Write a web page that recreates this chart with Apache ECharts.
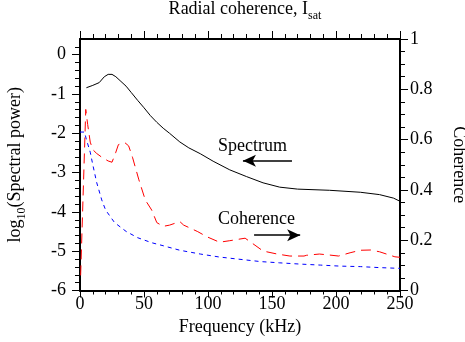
<!DOCTYPE html>
<html><head><meta charset="utf-8">
<script src="https://cdn.jsdelivr.net/npm/echarts@6/dist/echarts.min.js"></script>
<style>html,body{margin:0;padding:0;background:#fff}#c{width:465px;height:342px}</style>
</head><body><div id="c"></div>
<script>
// ---- data ----
const specFreq  = [5, 10, 15, 19, 22, 25, 28, 32, 36, 40, 45, 50, 55, 60, 65, 70, 78, 85, 94, 104, 117, 130, 143, 156, 170, 195, 219, 234, 245, 250];
const specPower = [-0.84, -0.78, -0.71, -0.56, -0.50, -0.50, -0.56, -0.68, -0.80, -0.96, -1.16, -1.35, -1.55, -1.72, -1.87, -2.00, -2.22, -2.37, -2.52, -2.71, -2.93, -3.10, -3.26, -3.37, -3.42, -3.45, -3.50, -3.56, -3.65, -3.73];

const cohFreq  = [0.5, 4.5, 6, 8, 10, 13, 17, 22, 25, 28, 30, 35, 38, 41, 46, 51, 56, 60, 65, 70, 78, 81, 92, 99, 109, 117, 129, 134, 143, 154, 164, 175, 177, 187, 195, 202, 211, 219, 227, 234, 246, 250];
const cohValue = [0.06, 0.72, 0.66, 0.59, 0.56, 0.545, 0.53, 0.515, 0.51, 0.55, 0.58, 0.588, 0.575, 0.53, 0.44, 0.36, 0.32, 0.27, 0.255, 0.26, 0.274, 0.26, 0.234, 0.214, 0.192, 0.198, 0.208, 0.19, 0.157, 0.145, 0.137, 0.137, 0.14, 0.145, 0.141, 0.137, 0.15, 0.16, 0.161, 0.154, 0.134, 0.132];

const levelFreq  = [0, 3.5, 5, 8, 10, 13, 17, 20, 27, 36, 45, 56, 65, 78, 94, 109, 125, 141, 156, 172, 188, 203, 219, 234, 250];
const levelValue = [0.63, 0.63, 0.60, 0.55, 0.50, 0.43, 0.36, 0.32, 0.27, 0.235, 0.21, 0.19, 0.178, 0.16, 0.145, 0.133, 0.124, 0.115, 0.11, 0.105, 0.101, 0.097, 0.095, 0.091, 0.088];

const xTickLabels = [0, 50, 100, 150, 200, 250];
const leftTickLabels = [-6, -5, -4, -3, -2, -1, 0];
const leftMinorTicks = [];
for (let i = 0; i <= 31; i++) leftMinorTicks.push(Math.round((-6 + i * 0.2) * 10) / 10);
const rightTickLabels = [0, 0.2, 0.4, 0.6, 0.8, 1];

// annotation positions (data space)
const spectrumArrow = [[165.6, -2.70], [127.3, -2.70]];
const spectrumText = [134.8, -2.34];
const coherenceArrow = [[136, 0.22], [172, 0.22]];
const coherenceText = [137.9, 0.284];

// ---- chart ----
const FONT = '"Liberation Serif", "Times New Roman", serif';
const txt = {fontFamily: FONT, fontSize: 18, color: '#000', fontWeight: 'normal'};
const zip = (a, b) => a.map((v, i) => [v, b[i]]);
const axisLine = {show: true, onZero: false, lineStyle: {color: '#000', width: 2}};

const chart = echarts.init(document.getElementById('c'), null, {renderer: 'canvas'});
chart.setOption({
  animation: false,
  backgroundColor: '#fff',
  title: {
    text: '{m|Radial coherence, I}{s|sat}',
    left: 240, top: -9, textAlign: 'center',
    textStyle: {fontWeight: 'normal', rich: {m: {fontFamily: FONT, fontSize: 18, color: '#000', fontWeight: 'normal'}, s: {fontFamily: FONT, fontSize: 12, color: '#000', fontWeight: 'normal', padding: [14, 0, 0, 0]}}}
  },
  grid: {left: 80, right: 65, top: 39, bottom: 51.5, containLabel: false, outerBoundsMode: 'none'},
  xAxis: [
    {type: 'value', position: 'bottom', min: 0, max: 250, interval: 50,
     axisLine, axisTick: {show: true, inside: false, length: 7, lineStyle: {color: '#000', width: 1}},
     minorTick: {show: true, splitNumber: 5, length: 4, lineStyle: {color: '#000', width: 1}},
     axisLabel: Object.assign({margin: 5, customValues: xTickLabels}, txt),
     splitLine: {show: false},
     name: 'Frequency (kHz)', nameLocation: 'middle', nameGap: 22, nameTextStyle: txt},
    {type: 'value', position: 'top', min: 0, max: 250, interval: 50,
     axisLine, axisTick: {show: true, inside: false, length: 8, lineStyle: {color: '#000', width: 1}},
     minorTick: {show: true, splitNumber: 5, length: 5, lineStyle: {color: '#000', width: 1}},
     axisLabel: {show: false}, splitLine: {show: false}}
  ],
  yAxis: [
    {type: 'value', position: 'left', min: -6, max: 0.4, interval: 1,
     axisLine, axisTick: {show: true, inside: false, length: 8, customValues: leftTickLabels, lineStyle: {color: '#000', width: 1}},
     axisLabel: Object.assign({margin: 14, customValues: leftTickLabels}, txt),
     splitLine: {show: false},
     name: '{m|log}{s|10}{m|(Spectral power)}', nameLocation: 'middle', nameGap: 52,
     nameTextStyle: {rich: {m: txt, s: {fontFamily: FONT, fontSize: 12, color: '#000', padding: [14, 0, 0, 0]}}}},
    {type: 'value', position: 'right', min: 0, max: 1, interval: 0.2,
     axisLine, axisTick: {show: true, inside: false, length: 8, lineStyle: {color: '#000', width: 1}},
     minorTick: {show: true, splitNumber: 4, length: 5, lineStyle: {color: '#000', width: 1}},
     axisLabel: Object.assign({margin: 10}, txt),
     splitLine: {show: false},
     name: 'Coherence', nameLocation: 'middle', nameRotate: -90, nameGap: 50, nameTextStyle: txt},
    {type: 'value', position: 'left', min: -6, max: 0.4, interval: 1,
     axisLine: {show: false, onZero: false},
     axisTick: {show: true, inside: false, length: 5, customValues: leftMinorTicks, lineStyle: {color: '#000', width: 1}},
     axisLabel: {show: false}, splitLine: {show: false}}
  ],
  series: [
    {type: 'line', name: 'level', xAxisIndex: 0, yAxisIndex: 1, data: zip(levelFreq, levelValue),
     showSymbol: false, symbol: 'none', lineStyle: {color: '#0000ff', width: 1, type: [4, 4]}, silent: true},
    {type: 'line', name: 'coherence', xAxisIndex: 0, yAxisIndex: 1, data: zip(cohFreq, cohValue),
     showSymbol: false, symbol: 'none', lineStyle: {color: '#ff0000', width: 1, type: [10, 6]}, silent: true,
     markLine: {silent: true, symbol: ['none', 'arrow'], symbolSize: [9, 13], label: {show: false},
       lineStyle: {color: '#000', width: 1.5, type: 'solid'},
       data: [[{coord: coherenceArrow[0]}, {coord: coherenceArrow[1]}]]},
     markPoint: {silent: true, symbol: 'rect', symbolSize: 1, itemStyle: {color: 'rgba(0,0,0,0)'},
       label: Object.assign({show: true, position: 'inside', formatter: 'Coherence'}, txt),
       data: [{coord: coherenceText}]}},
    {type: 'line', name: 'spectrum', xAxisIndex: 0, yAxisIndex: 0, data: zip(specFreq, specPower),
     showSymbol: false, symbol: 'none', lineStyle: {color: '#000', width: 1}, silent: true,
     markLine: {silent: true, symbol: ['none', 'arrow'], symbolSize: [9, 13], label: {show: false},
       lineStyle: {color: '#000', width: 1.5, type: 'solid'},
       data: [[{coord: spectrumArrow[0]}, {coord: spectrumArrow[1]}]]},
     markPoint: {silent: true, symbol: 'rect', symbolSize: 1, itemStyle: {color: 'rgba(0,0,0,0)'},
       label: Object.assign({show: true, position: 'inside', formatter: 'Spectrum'}, txt),
       data: [{coord: spectrumText}]}}
  ]
});
</script></body></html>
